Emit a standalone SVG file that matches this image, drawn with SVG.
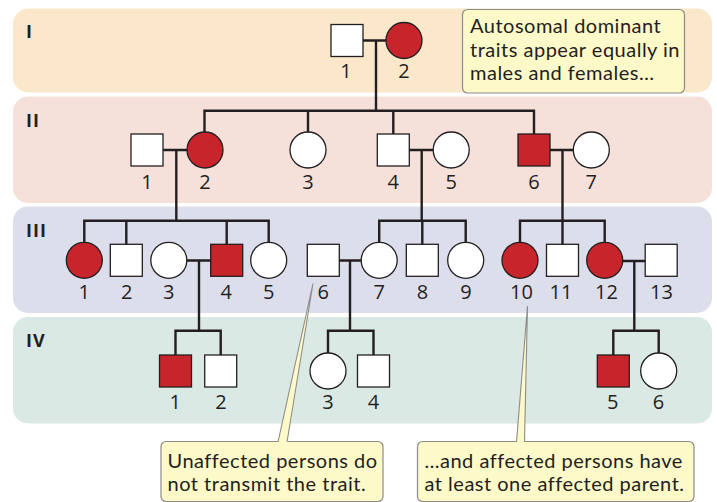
<svg xmlns="http://www.w3.org/2000/svg" width="717" height="502" viewBox="0 0 717 502">
<style>
.band{stroke:none}
.gen{font-family:"Open Sans","Liberation Sans",sans-serif;font-weight:bold;font-size:18px;fill:#231f20;letter-spacing:1px}
.lbl{font-family:"Open Sans","Liberation Sans",sans-serif;font-size:20px;fill:#231f20;text-anchor:middle}
.sq,.ci{stroke:#231f20;stroke-width:1.3}
.u{fill:#ffffff}
.a{fill:#c8242b}
.ln{stroke:#231f20;stroke-width:2.4;fill:none;stroke-linecap:square}
.box{fill:#fdf9c8;stroke:#8c8c8c;stroke-width:1.2}
.ptr{fill:#fdf9c8;stroke:none}
.ptrl{fill:none;stroke:#8c8c8c;stroke-width:1.1}
.ct{font-family:Lato,"Open Sans","Liberation Sans",sans-serif;font-size:20px;fill:#231f20;letter-spacing:0.5px}
</style>
<g id="bands">
<rect class="band" x="13" y="8.5" width="699" height="84" rx="15" fill="#fbe8cb"/>
<rect class="band" x="13" y="96.5" width="699" height="106.5" rx="15" fill="#f6e1da"/>
<rect class="band" x="13" y="206.5" width="699" height="106.5" rx="15" fill="#dddeec"/>
<rect class="band" x="13" y="317" width="699" height="106.5" rx="15" fill="#dae9e4"/>
</g>
<g id="generation-labels">
<text class="gen" x="26" y="38">I</text>
<text class="gen" x="26" y="127">II</text>
<text class="gen" x="26" y="236.5">III</text>
<text class="gen" x="26" y="346.5">IV</text>
</g>
<g id="connectors">
<path class="ln" d="M363,40.5H386 M376,40.5V110.7"/>
<path class="ln" d="M204.5,132V110.7H534V134 M308,110.7V132 M393.3,110.7V134"/>
<path class="ln" d="M163,150H187 M176.3,150V220.7"/>
<path class="ln" d="M409.3,150H433.2 M421.7,150V220.7"/>
<path class="ln" d="M550,150H573.3 M562.5,150V220.7"/>
<path class="ln" d="M84.3,242V220.7H268.7V242 M126.3,220.7V244.3 M226.7,220.7V244.3"/>
<path class="ln" d="M379.2,242V220.7H465.7V242 M422.3,220.7V244.3"/>
<path class="ln" d="M520,242V220.7H604.7V242 M562.5,220.7V244.3"/>
<path class="ln" d="M186.8,260.5H210.7 M199,260.5V330.7"/>
<path class="ln" d="M339.3,260.5H361.2 M350,260.5V330.7"/>
<path class="ln" d="M622.7,261H645.2 M634.3,261V330.7"/>
<path class="ln" d="M175.5,355V330.7H220.7V355"/>
<path class="ln" d="M328,353V330.7H373.5V355"/>
<path class="ln" d="M613.3,355V330.7H658.7V353"/>
</g>
<g id="gen-I">
<g id="I-1"><rect class="sq u" x="331" y="24.5" width="32" height="32"/><text class="lbl" x="346" y="78">1</text></g>
<g id="I-2"><circle class="ci a" cx="404" cy="40.5" r="18"/><text class="lbl" x="404" y="78">2</text></g>
</g>
<g id="gen-II">
<g id="II-1"><rect class="sq u" x="131" y="134" width="32" height="32"/><text class="lbl" x="147" y="189">1</text></g>
<g id="II-2"><circle class="ci a" cx="205" cy="150" r="18"/><text class="lbl" x="205" y="189">2</text></g>
<g id="II-3"><circle class="ci u" cx="308" cy="150" r="18"/><text class="lbl" x="308" y="189">3</text></g>
<g id="II-4"><rect class="sq u" x="377.3" y="134" width="32" height="32"/><text class="lbl" x="393.3" y="189">4</text></g>
<g id="II-5"><circle class="ci u" cx="451.2" cy="150" r="18"/><text class="lbl" x="451.2" y="189">5</text></g>
<g id="II-6"><rect class="sq a" x="518" y="134" width="32" height="32"/><text class="lbl" x="534" y="189">6</text></g>
<g id="II-7"><circle class="ci u" cx="591.3" cy="150" r="18"/><text class="lbl" x="591.3" y="189">7</text></g>
</g>
<g id="gen-III">
<g id="III-1"><circle class="ci a" cx="84.3" cy="260.3" r="18"/><text class="lbl" x="84.3" y="299">1</text></g>
<g id="III-2"><rect class="sq u" x="110.3" y="244.3" width="32" height="32"/><text class="lbl" x="126.8" y="299">2</text></g>
<g id="III-3"><circle class="ci u" cx="168.8" cy="260.3" r="18"/><text class="lbl" x="168.8" y="299">3</text></g>
<g id="III-4"><rect class="sq a" x="210.7" y="244.3" width="32" height="32"/><text class="lbl" x="226.2" y="299">4</text></g>
<g id="III-5"><circle class="ci u" cx="268.7" cy="260.3" r="18"/><text class="lbl" x="268.7" y="299">5</text></g>
<g id="III-6"><rect class="sq u" x="307.3" y="244.3" width="32" height="32"/><text class="lbl" x="323.3" y="299">6</text></g>
<g id="III-7"><circle class="ci u" cx="379.2" cy="260.3" r="18"/><text class="lbl" x="379.2" y="299">7</text></g>
<g id="III-8"><rect class="sq u" x="406.3" y="244.3" width="32" height="32"/><text class="lbl" x="422.5" y="299">8</text></g>
<g id="III-9"><circle class="ci u" cx="465.7" cy="260.3" r="18"/><text class="lbl" x="466" y="299">9</text></g>
<g id="III-10"><circle class="ci a" cx="520" cy="260.3" r="18"/><text class="lbl" x="521.5" y="299">10</text></g>
<g id="III-11"><rect class="sq u" x="546.5" y="244.3" width="32" height="32"/><text class="lbl" x="561" y="299">11</text></g>
<g id="III-12"><circle class="ci a" cx="604.7" cy="260.3" r="18"/><text class="lbl" x="606.5" y="299">12</text></g>
<g id="III-13"><rect class="sq u" x="645.2" y="244.3" width="32" height="32"/><text class="lbl" x="661.5" y="299">13</text></g>
</g>
<g id="gen-IV">
<g id="IV-1"><rect class="sq a" x="159.5" y="355" width="32" height="32"/><text class="lbl" x="175.3" y="408.5">1</text></g>
<g id="IV-2"><rect class="sq u" x="204.7" y="355" width="32" height="32"/><text class="lbl" x="221" y="408.5">2</text></g>
<g id="IV-3"><circle class="ci u" cx="328" cy="371" r="18"/><text class="lbl" x="328" y="408.5">3</text></g>
<g id="IV-4"><rect class="sq u" x="357.5" y="355" width="32" height="32"/><text class="lbl" x="373.5" y="408.5">4</text></g>
<g id="IV-5"><rect class="sq a" x="597.3" y="355" width="32" height="32"/><text class="lbl" x="612.8" y="408.5">5</text></g>
<g id="IV-6"><circle class="ci u" cx="658.7" cy="371" r="18"/><text class="lbl" x="658.5" y="408.5">6</text></g>
</g>
<g id="callout-top">
<rect class="box" x="462.5" y="9.5" width="222" height="83.5" rx="5"/>
<text class="ct" x="470" y="33.3">Autosomal dominant</text>
<text class="ct" x="470" y="56.5">traits appear equally in</text>
<text class="ct" x="470" y="79.5">males and females…</text>
</g>
<g id="callout-left">
<rect class="box" x="161" y="441.5" width="222" height="60" rx="5"/>
<polygon class="ptr" points="313,283.5 277.5,444 287.5,444"/>
<polyline class="ptrl" points="278,442 313,283.5 287,442"/>
<text class="ct" x="167.5" y="467.5">Unaffected persons do</text>
<text class="ct" x="167.5" y="490.5">not transmit the trait.</text>
</g>
<g id="callout-right">
<rect class="box" x="417.5" y="441.5" width="276.5" height="60" rx="5"/>
<polygon class="ptr" points="527.5,306 516,444 525,444"/>
<polyline class="ptrl" points="516.5,442 527.5,306 524.5,442"/>
<text class="ct" x="424.5" y="467.5">…and affected persons have</text>
<text class="ct" x="424.5" y="490.5">at least one affected parent.</text>
</g>
</svg>
